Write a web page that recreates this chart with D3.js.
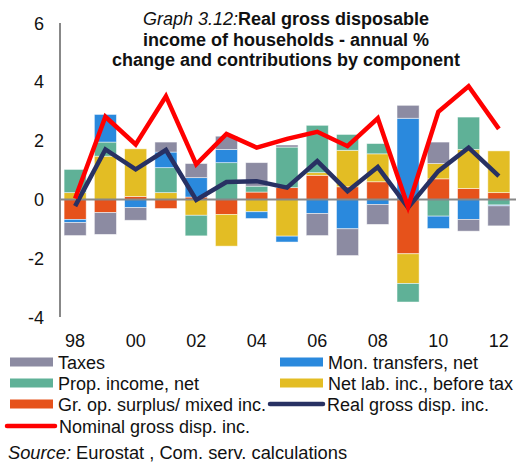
<!DOCTYPE html>
<html>
<head>
<meta charset="utf-8">
<script src="https://cdn.jsdelivr.net/npm/d3@7"></script>
<style>
  body { margin: 0; background: #fff; }
  svg { font-family: "Liberation Sans", Arial, sans-serif; }
</style>
</head>
<body>
<div id="chart"></div>
<script>
// Data (annual % change, contributions in pp)
const years = [1998, 1999, 2000, 2001, 2002, 2003, 2004, 2005, 2006, 2007, 2008, 2009, 2010, 2011, 2012];
const tickYears = [1998, 2000, 2002, 2004, 2006, 2008, 2010, 2012];
const yTicks = [-4, -2, 0, 2, 4, 6];

const grOpSurplus = [-0.68, -0.45, 0.10, -0.31, 0.08, -0.51, 0.25, 0.40, 0.82, 0.43, 0.60, -1.85, 0.70, 0.37, 0.23];
const netLabInc   = [0.23, 1.47, 1.62, 0.23, -0.54, -1.08, -0.42, -1.25, 0.09, 1.24, 0.95, -1.01, 0.52, 1.33, 1.42];
const propIncome  = [0.79, 0.48, 0.00, 0.85, -0.70, 1.25, 0.20, 1.38, 1.61, 0.54, 0.35, -0.63, -0.57, 1.10, -0.19];
const monTransfers= [-0.11, 0.94, -0.28, 0.53, 0.66, 0.45, -0.23, -0.20, -0.48, -1.00, -0.17, 2.76, -0.42, -0.68, -0.03];
const taxes       = [-0.44, -0.74, -0.43, 0.34, 0.48, 0.45, 0.80, 0.07, -0.75, -0.91, -0.68, 0.44, 0.73, -0.40, -0.68];

const realGDI    = [-0.23, 1.70, 1.02, 1.68, -0.02, 0.59, 0.62, 0.40, 1.30, 0.28, 1.10, -0.28, 0.96, 1.76, 0.79];
const nominalGDI = [0.03, 2.81, 1.87, 3.51, 1.19, 2.23, 1.76, 2.06, 2.30, 1.81, 2.76, -0.25, 2.98, 3.85, 2.40];

// series in stacking order (closest to zero first)
const series = [
  { key: "Gr. op. surplus/ mixed inc.", values: grOpSurplus, color: "#e6521b" },
  { key: "Net lab. inc., before tax", values: netLabInc, color: "#e3bd24" },
  { key: "Prop. income, net", values: propIncome, color: "#5fb197" },
  { key: "Mon. transfers, net", values: monTransfers, color: "#2a89dd" },
  { key: "Taxes", values: taxes, color: "#8c8ba2" }
];
const colorOf = {};
series.forEach(s => colorOf[s.key] = s.color);

const width = 516, height = 465;
const svg = d3.select("#chart").append("svg")
  .attr("width", width)
  .attr("height", height);

const x = d3.scaleBand()
  .domain(years)
  .range([60, 514])
  .paddingInner(0.27)
  .paddingOuter(0.135);

const y = d3.scaleLinear()
  .domain([-4, 6])
  .range([317, 23]);

// Stack with positive/negative offsets
const table = years.map((yr, i) => {
  const row = { year: yr };
  series.forEach(s => row[s.key] = s.values[i]);
  return row;
});
const stacked = d3.stack()
  .keys(series.map(s => s.key))
  .offset(d3.stackOffsetDiverging)(table);

svg.append("g")
  .selectAll("g")
  .data(stacked)
  .enter().append("g")
  .attr("fill", d => colorOf[d.key])
  .selectAll("rect")
  .data(d => d)
  .enter().append("rect")
  .attr("x", d => x(d.data.year))
  .attr("y", d => y(Math.max(d[0], d[1])))
  .attr("width", x.bandwidth())
  .attr("height", d => Math.abs(y(d[0]) - y(d[1])))
  .attr("stroke", "#ffffff")
  .attr("stroke-opacity", 0.6)
  .attr("stroke-width", 0.8);

// Axes lines
svg.append("line")
  .attr("x1", 60).attr("x2", 60)
  .attr("y1", y(6)).attr("y2", y(-4))
  .attr("stroke", "#888").attr("stroke-width", 2);
svg.append("line")
  .attr("x1", 60).attr("x2", width)
  .attr("y1", y(0)).attr("y2", y(0))
  .attr("stroke", "#888").attr("stroke-width", 2);

// Y tick labels
svg.append("g")
  .selectAll("text")
  .data(yTicks)
  .enter().append("text")
  .attr("x", 44)
  .attr("y", d => y(d) + 6.5)
  .attr("text-anchor", "end")
  .style("font-size", "18px")
  .attr("fill", "#111")
  .text(d => d);

// X tick labels
svg.append("g")
  .selectAll("text")
  .data(tickYears)
  .enter().append("text")
  .attr("x", d => x(d) + x.bandwidth() / 2)
  .attr("y", 347)
  .attr("text-anchor", "middle")
  .style("font-size", "18px")
  .attr("fill", "#111")
  .text(d => String(d).slice(2));

// Lines
const line = vals => d3.line()
  .x((d, i) => x(years[i]) + x.bandwidth() / 2)
  .y(d => y(d))(vals);

svg.append("path")
  .attr("d", line(realGDI))
  .attr("fill", "none")
  .attr("stroke", "#283163")
  .attr("stroke-width", 4.5);

svg.append("path")
  .attr("d", line(nominalGDI))
  .attr("fill", "none")
  .attr("stroke", "#ff0000")
  .attr("stroke-width", 4.5);

// Title
const title = svg.append("text")
  .attr("text-anchor", "middle")
  .style("font-size", "18px")
  .style("font-weight", "bold")
  .attr("fill", "#111");
const t1 = title.append("tspan").attr("x", 286).attr("y", 25);
t1.append("tspan").style("font-style", "italic").style("font-weight", "normal").text("Graph 3.12:");
t1.append("tspan").text("Real gross disposable");
title.append("tspan").attr("x", 286).attr("y", 46).text("income of households - annual %");
title.append("tspan").attr("x", 286).attr("y", 66).text("change and contributions by component");

// Legend
const legendItems = [
  { label: "Taxes", color: colorOf["Taxes"], type: "rect", x: 10, y: 362 },
  { label: "Mon. transfers, net", color: colorOf["Mon. transfers, net"], type: "rect", x: 280, y: 362 },
  { label: "Prop. income, net", color: colorOf["Prop. income, net"], type: "rect", x: 10, y: 383 },
  { label: "Net lab. inc., before tax", color: colorOf["Net lab. inc., before tax"], type: "rect", x: 280, y: 383 },
  { label: "Gr. op. surplus/ mixed inc.", color: colorOf["Gr. op. surplus/ mixed inc."], type: "rect", x: 10, y: 404 },
  { label: "Real gross disp. inc.", color: "#283163", type: "line", x: 270, y: 404 },
  { label: "Nominal gross disp. inc.", color: "#ff0000", type: "line", x: 7, y: 426 }
];

const legend = svg.append("g");
legendItems.forEach(item => {
  const g = legend.append("g");
  let textX;
  if (item.type === "rect") {
    g.append("rect")
      .attr("x", item.x).attr("y", item.y - 4.5)
      .attr("width", 43).attr("height", 9)
      .attr("fill", item.color);
    textX = item.x + 48;
  } else {
    const x2 = item.x === 7 ? 55 : 323;
    g.append("line")
      .attr("x1", item.x).attr("x2", x2)
      .attr("y1", item.y).attr("y2", item.y)
      .attr("stroke", item.color)
      .attr("stroke-width", 4.5)
      .attr("stroke-linecap", "round");
    textX = x2 + 4;
  }
  g.append("text")
    .attr("x", textX)
    .attr("y", item.y + 6.5)
    .style("font-size", "18px")
    .attr("fill", "#111")
    .text(item.label);
});

// Source
const src = svg.append("text")
  .attr("x", 8).attr("y", 459)
  .style("font-size", "18.3px")
  .attr("fill", "#111");
src.append("tspan").style("font-style", "italic").text("Source:");
src.append("tspan").text(" Eurostat , Com. serv. calculations");
</script>
</body>
</html>
